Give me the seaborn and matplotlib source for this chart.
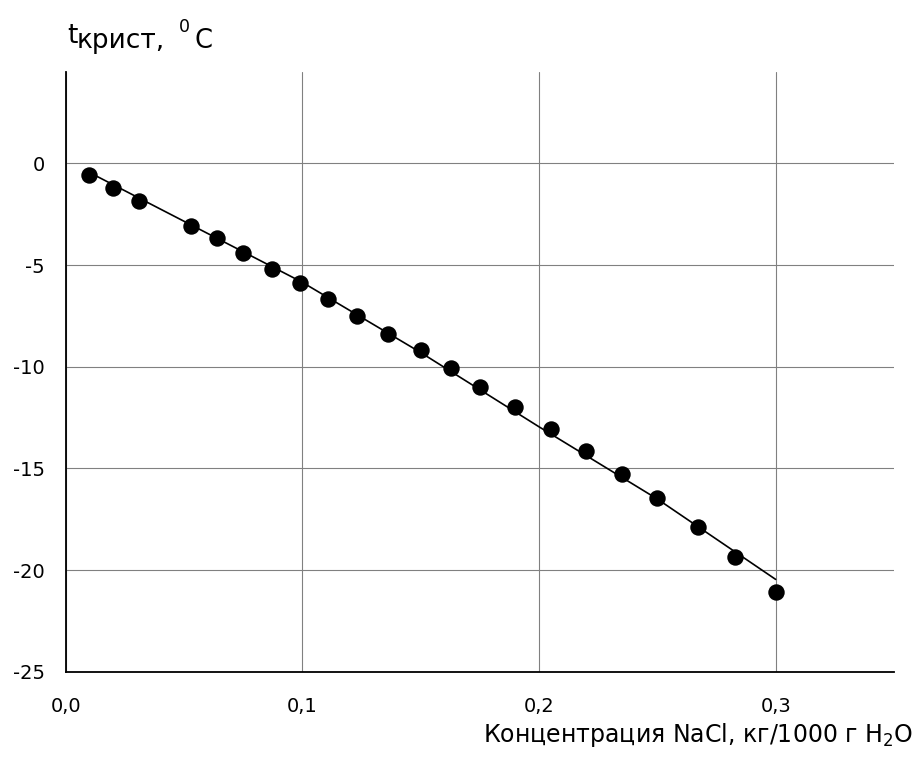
import matplotlib
matplotlib.use("Agg")
import matplotlib.pyplot as plt
import seaborn as sns

# measured points
conc = [0.010, 0.020, 0.031, 0.053, 0.064, 0.075, 0.087, 0.099, 0.111, 0.123, 0.136,
        0.150, 0.163, 0.175, 0.190, 0.205, 0.220, 0.235, 0.250, 0.267, 0.283, 0.300]
t_cryst = [-0.59, -1.23, -1.84, -3.10, -3.69, -4.39, -5.18, -5.90, -6.69, -7.49, -8.38,
           -9.18, -10.08, -10.98, -11.98, -13.06, -14.14, -15.26, -16.46, -17.87, -19.34, -21.06]

# trend line
line_x = [0.01, 0.05, 0.10, 0.15, 0.20, 0.25, 0.30]
line_y = [-0.45, -2.85, -5.85, -9.30, -12.95, -16.50, -20.45]

xticks = [0.0, 0.1, 0.2, 0.3]
xtick_labels = ["0,0", "0,1", "0,2", "0,3"]
yticks = [0, -5, -10, -15, -20, -25]
ytick_labels = ["0", "-5", "-10", "-15", "-20", "-25"]

sns.set_style("white")
plt.rcParams["font.family"] = ["DejaVu Sans"]
plt.rcParams["mathtext.fontset"] = "dejavusans"
plt.rcParams["text.color"] = "black"

W, H = 924, 767
fig = plt.figure(figsize=(W / 100, H / 100), dpi=100)
ax = fig.add_axes([0.0711, 0.1239, 0.8964, 0.7826])

sns.lineplot(x=line_x, y=line_y, ax=ax, color="black", linewidth=1.2, zorder=3)
sns.scatterplot(x=conc, y=t_cryst, ax=ax, color="black", s=140, edgecolor="black",
                linewidth=0, zorder=4)

ax.set_xlim(0, 0.35)
ax.set_ylim(-25, 4.5)
ax.set_xticks(xticks)
ax.set_xticklabels(xtick_labels)
ax.set_yticks(yticks)
ax.set_yticklabels(ytick_labels)
ax.tick_params(axis="both", direction="out", length=6, width=1, color="black",
               labelsize=14, labelcolor="black")
ax.tick_params(axis="x", pad=12)
ax.tick_params(axis="y", pad=9)

ax.grid(True, color="#808080", linewidth=0.8)
ax.set_axisbelow(True)
for side in ["top", "right"]:
    ax.spines[side].set_visible(False)
for side in ["left", "bottom"]:
    ax.spines[side].set_color("black")
    ax.spines[side].set_linewidth(1.3)

# y title: t with lowered "крист", superscript 0, C  (pixel positions from the top)
def px_text(x, y, s, size):
    fig.text(x / W, 1 - y / H, s, fontsize=size, ha="left", va="baseline",
             color="black")

px_text(67, 43, "t", 19)
px_text(77, 48.5, "крист,", 19)
px_text(179, 32, "0", 12.5)
px_text(194, 48.5, "C", 18.5)

# x title
fig.text(913 / W, 1 - 742 / H, r"Концентрация NaCl, кг/1000 г H$_2$O", fontsize=17,
         ha="right", va="baseline", color="black")

fig.savefig("out.png", dpi=100)
